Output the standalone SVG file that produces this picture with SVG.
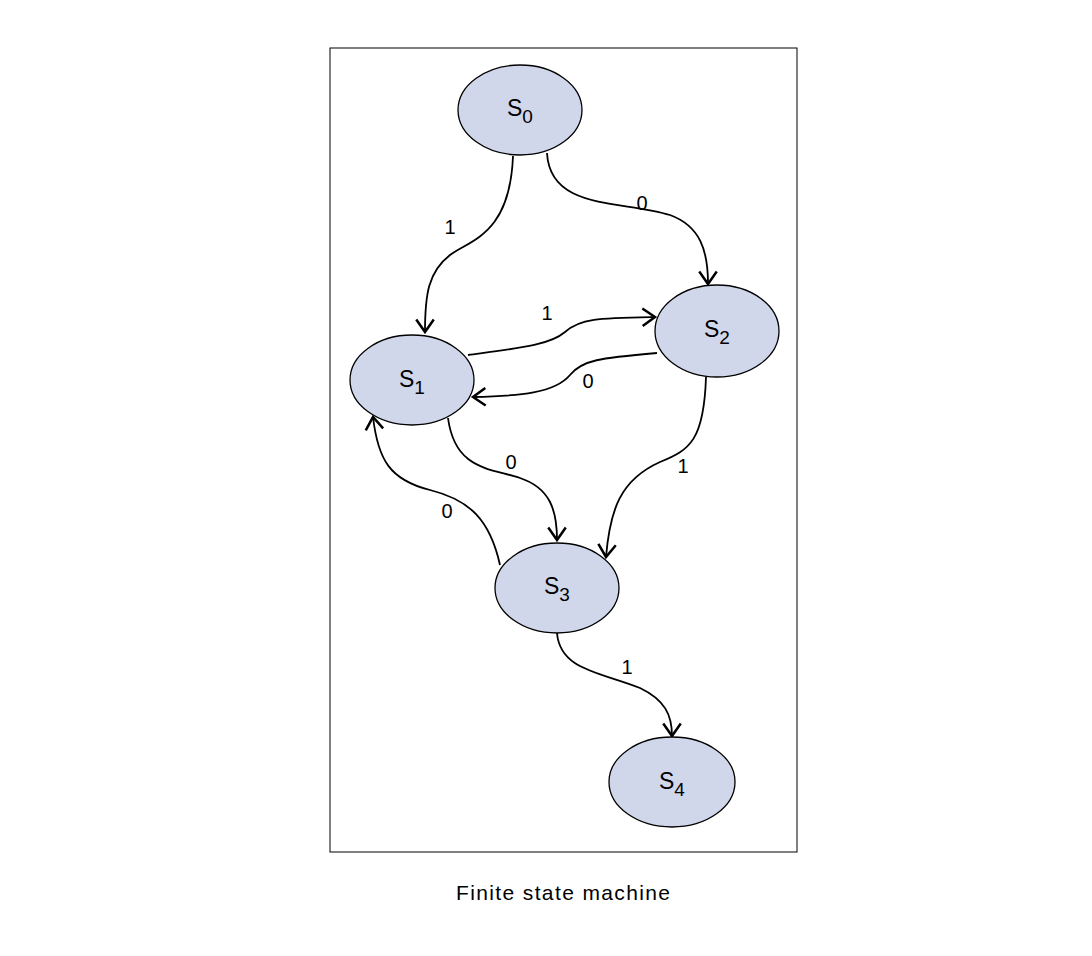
<svg xmlns="http://www.w3.org/2000/svg" width="1092" height="956" viewBox="0 0 1092 956">
<style>
.node{fill:#d1d7eb;stroke:#000;stroke-width:1.3}
.st{font-family:"Liberation Sans",Arial,sans-serif;font-size:23px;fill:#000}
.sub{font-size:19px}
.lbl{font-family:"Liberation Sans",Arial,sans-serif;font-size:20px;fill:#000;text-anchor:middle}
.edge{fill:none;stroke:#000;stroke-width:1.8}
</style>
<defs>
<marker id="arr" markerUnits="userSpaceOnUse" markerWidth="20" markerHeight="20" viewBox="-12 -8 14 16" refX="0" refY="0" orient="auto">
<path d="M-10,-7 L0,0 L-10,7" fill="none" stroke="#000" stroke-width="2"/>
</marker>
</defs>
<rect x="330" y="48" width="467" height="804" fill="#fff" stroke="#000" stroke-width="1"/>
<g id="connectors">
<path class="edge" marker-end="url(#arr)" d="M513,156 C510,235 470,240 450,255 C428,272 425,295 425,332"/>
<path class="edge" marker-end="url(#arr)" d="M547,153 C550,210 620,200 670,215 C700,226 708,250 708,284"/>
<path class="edge" marker-end="url(#arr)" d="M468,355 C520,348 550,345 565,332 C580,318 600,318 655,317"/>
<path class="edge" marker-end="url(#arr)" d="M657,353 C600,358 582,360 570,375 C555,393 520,396 473,397"/>
<path class="edge" marker-end="url(#arr)" d="M448,418 C455,470 490,468 520,478 C550,488 557,510 557,540"/>
<path class="edge" marker-end="url(#arr)" d="M706,377 C704,440 690,450 660,462 C620,480 610,510 606,557"/>
<path class="edge" marker-end="url(#arr)" d="M500,565 C490,520 470,500 430,490 C390,480 378,460 373,417"/>
<path class="edge" marker-end="url(#arr)" d="M557,633 C560,670 600,672 640,688 C665,700 672,715 672,736"/>
<text class="lbl" x="450" y="234">1</text>
<text class="lbl" x="642" y="210">0</text>
<text class="lbl" x="547" y="320">1</text>
<text class="lbl" x="588" y="388">0</text>
<text class="lbl" x="511" y="469">0</text>
<text class="lbl" x="683" y="473">1</text>
<text class="lbl" x="447" y="518">0</text>
<text class="lbl" x="627" y="674">1</text>
</g>
<g id="S0"><ellipse class="node" cx="520" cy="110" rx="62" ry="45"/><text class="st" x="507" y="116">S<tspan class="sub" dy="7">0</tspan></text></g>
<g id="S1"><ellipse class="node" cx="412" cy="380" rx="62" ry="45"/><text class="st" x="399" y="387">S<tspan class="sub" dy="7">1</tspan></text></g>
<g id="S2"><ellipse class="node" cx="717" cy="331" rx="62" ry="46"/><text class="st" x="704" y="337">S<tspan class="sub" dy="7">2</tspan></text></g>
<g id="S3"><ellipse class="node" cx="557" cy="588" rx="62" ry="45"/><text class="st" x="544" y="594">S<tspan class="sub" dy="7">3</tspan></text></g>
<g id="S4"><ellipse class="node" cx="672" cy="782" rx="63" ry="45"/><text class="st" x="659" y="789">S<tspan class="sub" dy="7">4</tspan></text></g>
<text x="563" y="900" font-family="'Liberation Sans',Arial,sans-serif" font-size="21" text-anchor="middle" textLength="214" lengthAdjust="spacing">Finite state machine</text>
</svg>
